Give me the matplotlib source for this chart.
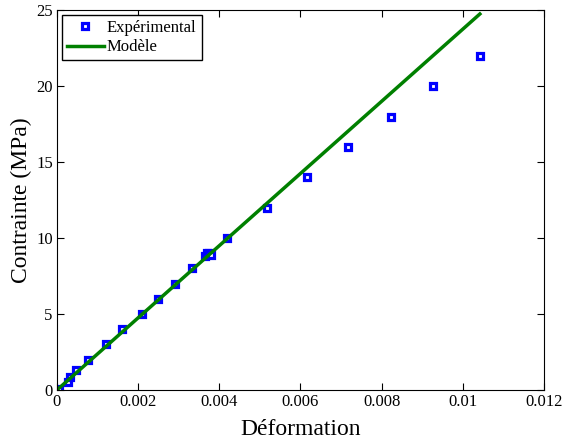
import matplotlib
matplotlib.use('Agg')
import matplotlib.pyplot as plt
import numpy as np

plt.rcParams['font.family'] = ['Liberation Serif', 'DejaVu Serif']

# donnees experimentales
eps_exp = [0.0, 0.00005, 0.00026, 0.00031, 0.00046, 0.00076, 0.0012, 0.0016,
           0.0021, 0.00249, 0.00291, 0.00333, 0.00365, 0.0037, 0.00375, 0.0038,
           0.00419, 0.00517, 0.00616, 0.00717, 0.00823, 0.00927, 0.01042]
sig_exp = [0.0, 0.1, 0.55, 0.85, 1.3, 2.0, 3.0, 4.0,
           5.0, 6.0, 7.0, 8.0, 8.8, 9.0, 9.05, 8.9,
           10.0, 12.0, 14.0, 16.0, 18.0, 20.0, 22.0]

# modele lineaire
E_mod = 2375.0
eps_mod = [0.0, 0.01042]
sig_mod = [E_mod * e for e in eps_mod]

fig = plt.figure(figsize=(5.64, 4.41), dpi=100)
ax = fig.add_axes([0.101, 0.1156, 0.8635, 0.8614])

ax.plot(eps_exp, sig_exp, 's', color='b', markerfacecolor='w',
        markeredgecolor='b', markersize=5, markeredgewidth=2.3,
        label='Expérimental')
ax.plot(eps_mod, sig_mod, '-', color='#008000', linewidth=2.5, label='Modèle')

ax.set_xlim(0, 0.012)
ax.set_ylim(0, 25)
ax.set_xticks([0, 0.002, 0.004, 0.006, 0.008, 0.01, 0.012])
ax.set_xticklabels(['0', '0.002', '0.004', '0.006', '0.008', '0.01', '0.012'])
ax.set_yticks([0, 5, 10, 15, 20, 25])
ax.tick_params(direction='in', top=True, right=True, labelsize=12,
               length=5, pad=3)
ax.set_xlabel('Déformation', fontsize=17, labelpad=6)
ax.set_ylabel('Contrainte (MPa)', fontsize=17, labelpad=3)

leg = ax.legend(loc='upper left', fontsize=12, fancybox=False,
                edgecolor='k', framealpha=1, borderaxespad=0.3,
                handlelength=2.2, handletextpad=0.2, borderpad=0.3,
                labelspacing=0.2)
leg.get_frame().set_linewidth(1.0)

fig.savefig('out.png', dpi=100)
